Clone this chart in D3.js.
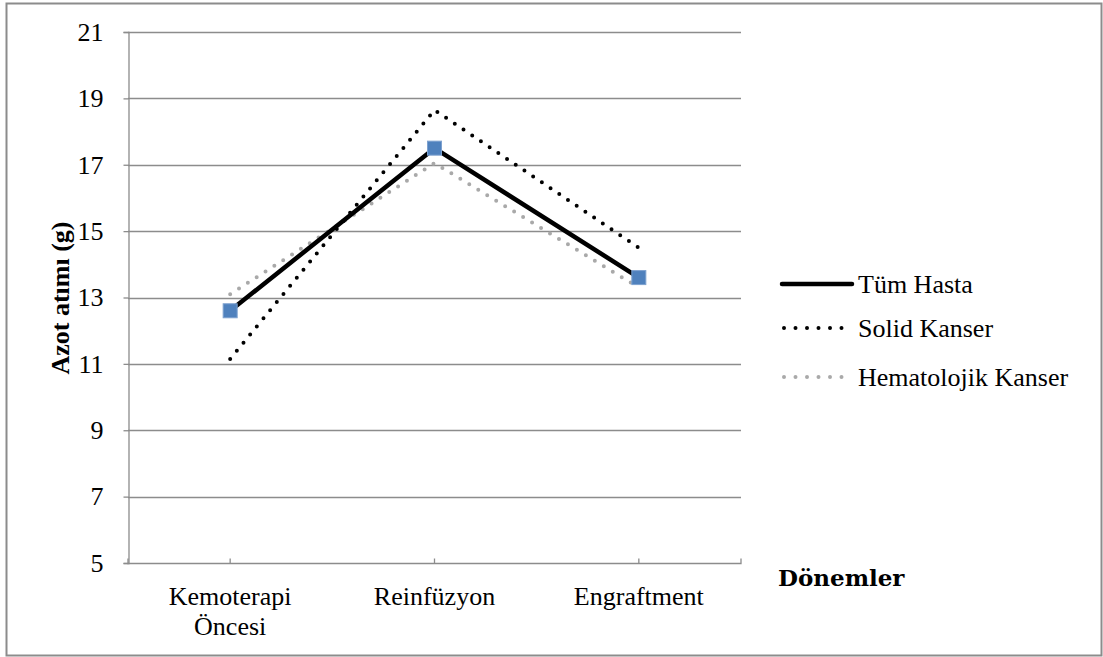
<!DOCTYPE html>
<html>
<head>
<meta charset="utf-8">
<script src="https://cdn.jsdelivr.net/npm/d3@7"></script>
<style>
  html, body { margin: 0; padding: 0; background: #fff; }
  svg { display: block; }
  text { font-family: "Liberation Serif", "Times New Roman", serif; fill: #000; }
</style>
</head>
<body>
<svg id="chart" width="1103" height="657"></svg>
<script>
// Periods (x categories)
const categories = ["Kemoterapi Öncesi", "Reinfüzyon", "Engraftment"];
const categoryLines = [["Kemoterapi", "Öncesi"], ["Reinfüzyon"], ["Engraftment"]];

// Nitrogen excretion (g) per group
const tumHasta = [12.6, 17.5, 13.6];
const solidKanser = [11.15, 18.65, 14.5];
const hematolojikKanser = [13.1, 17.05, 13.3];

const seriesNames = ["Tüm Hasta", "Solid Kanser", "Hematolojik Kanser"];
const yTicks = [5, 7, 9, 11, 13, 15, 17, 19, 21];

const series = [
  { name: seriesNames[0], values: tumHasta, color: "#000", width: 4.5, dash: null, markers: true },
  { name: seriesNames[1], values: solidKanser, color: "#000", width: 4, dash: "0 10.5", markers: false },
  { name: seriesNames[2], values: hematolojikKanser, color: "#a9a9a9", width: 4, dash: "0 10.5", markers: false }
];

const FONT = "26px";
const svg = d3.select("#chart");

// outer frame
svg.append("rect")
  .attr("x", 6.5).attr("y", 3.5)
  .attr("width", 1095).attr("height", 652)
  .attr("fill", "none").attr("stroke", "#8c8c8c").attr("stroke-width", 2);

const plot = { left: 128, right: 741, top: 32, bottom: 563 };

const x = d3.scaleBand().domain(categories).range([plot.left, plot.right]).paddingInner(0).paddingOuter(0);
const cx = c => x(c) + x.bandwidth() / 2;
const y = d3.scaleLinear().domain([5, 21]).range([plot.bottom, plot.top]);

// horizontal gridlines
svg.append("g")
  .selectAll("line")
  .data(yTicks.filter(t => t !== 5))
  .join("line")
  .attr("x1", plot.left).attr("x2", plot.right)
  .attr("y1", d => Math.round(y(d)) + 0.5).attr("y2", d => Math.round(y(d)) + 0.5)
  .attr("stroke", "#8c8c8c").attr("stroke-width", 1.3);

// y axis
const yAxis = svg.append("g")
  .attr("transform", `translate(${plot.left + 0.5},0)`)
  .call(d3.axisLeft(y).tickValues(yTicks).tickSize(5).tickPadding(20).tickFormat(d3.format("d")));
yAxis.select(".domain").attr("stroke", "#8c8c8c").attr("stroke-width", 1.3);
yAxis.selectAll(".tick line").attr("stroke", "#8c8c8c").attr("stroke-width", 1.3);
yAxis.selectAll(".tick text")
  .style("font-family", "Liberation Serif, serif").style("font-size", FONT).attr("fill", "#000");

// x axis
const xAxis = svg.append("g")
  .attr("transform", `translate(0,${plot.bottom + 0.5})`)
  .call(d3.axisBottom(x).tickSize(5).tickFormat(""));
xAxis.select(".domain").attr("stroke", "#8c8c8c").attr("stroke-width", 1.3)
  .attr("d", `M${plot.left},-5V0H${plot.right}V-5`);
xAxis.selectAll(".tick line").attr("stroke", "#8c8c8c").attr("stroke-width", 1.3).attr("y1", -5).attr("y2", 0);

// category labels (possibly multi-line)
const catLabels = svg.append("g");
categories.forEach((c, i) => {
  const t = catLabels.append("text")
    .attr("x", cx(c)).attr("y", 605)
    .attr("text-anchor", "middle")
    .style("font-size", FONT);
  categoryLines[i].forEach((ln, j) => {
    t.append("tspan").attr("x", cx(c)).attr("dy", j === 0 ? 0 : 30).text(ln);
  });
});

// axis titles
svg.append("text")
  .attr("transform", `translate(69,298) rotate(-90)`)
  .attr("text-anchor", "middle")
  .style("font-size", FONT).style("font-weight", "bold")
  .text("Azot atımı (g)");

svg.append("text")
  .attr("x", 778).attr("y", 586)
  .style("font-family", "DejaVu Serif, serif")
  .style("font-size", "23px").style("font-weight", "bold")
  .text("Dönemler");

// series lines
const line = d3.line().x((d, i) => cx(categories[i])).y(d => y(d));

// draw dotted series first, then the solid one with markers on top
[series[2], series[1], series[0]].forEach(s => {
  svg.append("path")
    .datum(s.values)
    .attr("d", line)
    .attr("fill", "none")
    .attr("stroke", s.color)
    .attr("stroke-width", s.width)
    .attr("stroke-linecap", s.dash ? "round" : "butt")
    .attr("stroke-linejoin", "miter")
    .attr("stroke-dasharray", s.dash);
  if (s.markers) {
    svg.append("g").selectAll("rect")
      .data(s.values)
      .join("rect")
      .attr("x", (d, i) => cx(categories[i]) - 7)
      .attr("y", d => y(d) - 7)
      .attr("width", 14).attr("height", 14)
      .attr("fill", "#4f81bd")
      .attr("stroke", "#7da1cf").attr("stroke-width", 1);
  }
});

// legend
const legend = svg.append("g");
const legendY = [284, 328, 377];
series.forEach((s, i) => {
  legend.append("line")
    .attr("x1", s.dash ? 784 : 782).attr("x2", s.dash ? 850 : 852)
    .attr("y1", legendY[i]).attr("y2", legendY[i])
    .attr("stroke", s.color).attr("stroke-width", s.width)
    .attr("stroke-linecap", "round")
    .attr("stroke-dasharray", s.dash ? "0 11.5" : null);
  legend.append("text")
    .attr("x", 858).attr("y", legendY[i] + 9)
    .style("font-size", FONT)
    .text(s.name);
});
</script>
</body>
</html>
